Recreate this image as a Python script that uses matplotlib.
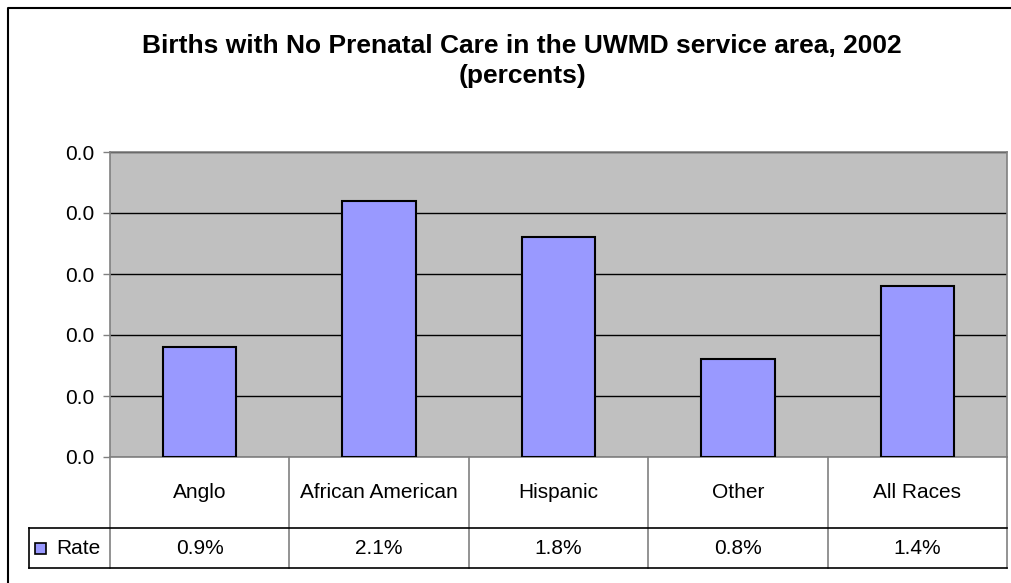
import matplotlib
matplotlib.use("Agg")
import matplotlib.pyplot as plt
from matplotlib.lines import Line2D
from matplotlib.patches import Rectangle
from matplotlib.ticker import FuncFormatter, MultipleLocator

categories = ["Anglo", "African American", "Hispanic", "Other", "All Races"]
rate = [0.009, 0.021, 0.018, 0.008, 0.014]
series_name = "Rate"
title = "Births with No Prenatal Care in the UWMD service area, 2002\n(percents)"

W, H = 1012, 583
plt.rcParams['font.family'] = ['Liberation Sans', 'DejaVu Sans']
fig = plt.figure(figsize=(W / 100, H / 100), dpi=100)

FS = 15

# axes placement in pixels
L, R, T, B = 110, 1007, 152, 457
ax = fig.add_axes([L / W, 1 - B / H, (R - L) / W, (B - T) / H])
ax.set_facecolor("#C0C0C0")
for s in ax.spines.values():
    s.set_color("#808080")
    s.set_linewidth(1.2)

x = list(range(len(categories)))
ax.bar(x, rate, width=0.41, color="#9999FF", edgecolor="black", linewidth=1.5, zorder=3)
ax.set_xlim(-0.5, len(categories) - 0.5)
ax.set_ylim(0, 0.025)
ax.yaxis.set_major_locator(MultipleLocator(0.005))
ax.yaxis.set_major_formatter(FuncFormatter(lambda v, p: f"{v:.1f}"))
ax.grid(axis="y", color="black", linewidth=1.0, zorder=1)
ax.set_axisbelow(True)
ax.tick_params(axis="y", length=5, width=1, color="#808080", labelsize=FS, pad=6)
ax.set_xticks([])

# data table below the axes (axes coordinates)
ph = B - T
pw = R - L
y_mid = -(528 - B) / ph
y_bot = -(568 - B) / ph
x_left = -(L - 29) / pw
tr = ax.transAxes
n = len(categories)
lines = []
for i in range(n + 1):
    xx = i / n
    lines.append(Line2D([xx, xx], [0, y_bot], transform=tr, color="#808080", lw=1.2, clip_on=False))
lines.append(Line2D([x_left, 1], [y_mid, y_mid], transform=tr, color="black", lw=1.2, clip_on=False))
lines.append(Line2D([x_left, 1], [y_bot, y_bot], transform=tr, color="black", lw=1.2, clip_on=False))
lines.append(Line2D([x_left, x_left], [y_mid, y_bot], transform=tr, color="black", lw=1.2, clip_on=False))
for ln in lines:
    ax.add_line(ln)

for i, (c, v) in enumerate(zip(categories, rate)):
    xc = (i + 0.5) / n
    ax.text(xc, y_mid / 2, c, transform=tr, ha="center", va="center", fontsize=FS, clip_on=False)
    ax.text(xc, (y_mid + y_bot) / 2, f"{v * 100:.1f}%", transform=tr, ha="center", va="center",
            fontsize=FS, clip_on=False)

# legend key in table
kx0 = -(L - 35) / pw
kw = 11 / pw
kh = 11 / ph
ky = (y_mid + y_bot) / 2 - kh / 2
ax.add_patch(Rectangle((kx0, ky), kw, kh, transform=tr, facecolor="#9999FF", edgecolor="black",
                       lw=1.2, clip_on=False))
ax.text(-(L - 56) / pw, (y_mid + y_bot) / 2, series_name, transform=tr, ha="left", va="center",
        fontsize=FS, clip_on=False)

# title
fig.text(522 / W, 1 - 61 / H, title, ha="center", va="center", fontsize=19,
         fontweight="bold", linespacing=1.35)

# outer chart frame (left and top edges visible)
fig.add_artist(Line2D([8 / W, 8 / W, 1.0], [0, 1 - 8 / H, 1 - 8 / H], transform=fig.transFigure,
                      color="black", lw=1.5))

fig.savefig("out.png", dpi=100)
